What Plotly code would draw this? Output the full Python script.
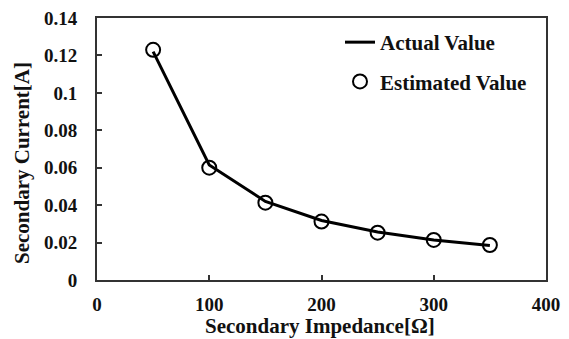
import plotly.graph_objects as go

impedance = [50, 100, 150, 200, 250, 300, 350]
actual_current = [0.122, 0.0615, 0.042, 0.0318, 0.0257, 0.0214, 0.0184]
estimated_current = [0.123, 0.060, 0.0413, 0.0312, 0.0253, 0.0214, 0.0187]

x_ticks = [0, 100, 200, 300, 400]
y_ticks = [0, 0.02, 0.04, 0.06, 0.08, 0.1, 0.12, 0.14]
y_tick_text = ["0", "0.02", "0.04", "0.06", "0.08", "0.1", "0.12", "0.14"]

FONT = "Liberation Serif"
TXT = "#111111"
TICK_SIZE = 19
TEXT_SIZE = 21

fig = go.Figure()
fig.add_trace(go.Scatter(
    x=impedance, y=actual_current, mode="lines", name="Actual Value",
    line=dict(color="black", width=3), legendgroup="a"))
fig.add_trace(go.Scatter(
    x=impedance, y=estimated_current, mode="markers", name="Estimated Value",
    marker=dict(symbol="circle-open", size=14, color="black", line=dict(width=2)),
    legendgroup="b"))

# page body has an 8px margin; figure coordinates are page coordinates minus 8
OFF = 8
W, H = 561, 331
L, R, T, B = 97 - OFF, W + OFF - 546, 18 - OFF, H + OFF - 280
PW, PH = W - L - R, H - T - B


def px_x(page_x):
    return (page_x - OFF - L) / PW


def px_y(page_y):
    return (H - B - (page_y - OFF)) / PH


fig.update_layout(
    width=W, height=H,
    margin=dict(l=L, r=R, t=T, b=B, autoexpand=False),
    paper_bgcolor="white", plot_bgcolor="white",
    font=dict(family=FONT, size=TEXT_SIZE, color=TXT),
    showlegend=True,
    legend=dict(x=px_x(340), y=px_y(22),
                xanchor="left", yanchor="top",
                bgcolor="rgba(0,0,0,0)", traceorder="grouped",
                tracegroupgap=9,
                font=dict(family=FONT, size=TEXT_SIZE, color=TXT, weight="bold")),
    xaxis=dict(range=[0, 400], tickvals=x_ticks, ticks="inside", ticklen=5,
               tickwidth=1.5, tickcolor="#333", showline=True, linecolor="#333",
               linewidth=2, mirror=True, showgrid=False, zeroline=False,
               ticklabelstandoff=6, automargin=False, ticklabeloverflow="allow",
               tickfont=dict(family=FONT, size=TICK_SIZE, color=TXT, weight="bold")),
    yaxis=dict(range=[0, 0.14], tickvals=y_ticks, ticktext=y_tick_text,
               ticks="inside", ticklen=5, tickwidth=1.5, tickcolor="#333",
               showline=True, linecolor="#333", linewidth=2, mirror=True,
               showgrid=False, zeroline=False, ticklabelstandoff=14,
               automargin=False, ticklabeloverflow="allow",
               tickfont=dict(family=FONT, size=TICK_SIZE, color=TXT, weight="bold")),
)

fig.add_annotation(
    text="Secondary Current[A]", textangle=-90, showarrow=False,
    xref="paper", yref="paper",
    x=px_x(22), y=px_y(163),
    xanchor="center", yanchor="middle",
    font=dict(family=FONT, size=TEXT_SIZE, color=TXT, weight="bold"))
fig.add_annotation(
    text="Secondary Impedance[Ω]", showarrow=False,
    xref="paper", yref="paper",
    x=px_x(320), y=px_y(326),
    xanchor="center", yanchor="middle",
    font=dict(family=FONT, size=TEXT_SIZE, color=TXT, weight="bold"))

fig.write_html("out.html")
